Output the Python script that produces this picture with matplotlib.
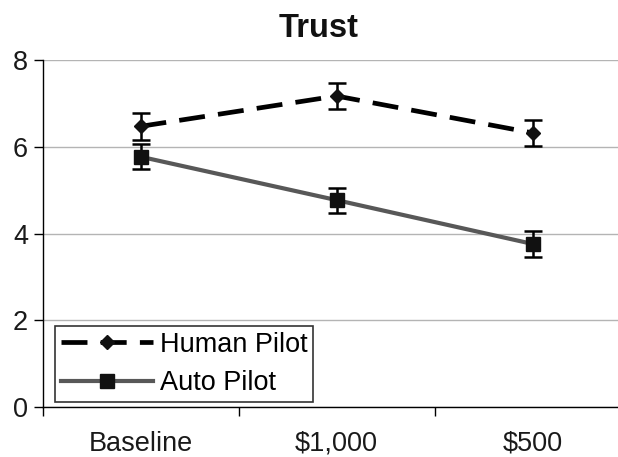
import numpy as np
import matplotlib.pyplot as plt

plt.rcParams['font.family'] = ['Liberation Sans', 'DejaVu Sans']

categories = ['Baseline', '$1,000', '$500']
human = [6.47, 7.17, 6.32]
human_err = [0.31, 0.30, 0.30]
auto = [5.77, 4.77, 3.76]
auto_err = [0.29, 0.29, 0.30]

W, H = 618, 457
fig = plt.figure(figsize=(W / 100, H / 100), dpi=100)
# axes run past the right edge like the original
ax = fig.add_axes([42.5 / W, 1 - 407 / H, 588 / W, 347 / H])

x = np.arange(len(categories)) + 0.5

ax.errorbar(x, human, yerr=human_err, fmt='none', ecolor='black',
            elinewidth=1.8, capsize=6.5, capthick=1.8, zorder=3)
ax.errorbar(x, auto, yerr=auto_err, fmt='none', ecolor='black',
            elinewidth=1.8, capsize=6.5, capthick=1.8, zorder=3)
ax.plot(x, human, color='black', lw=3.4, ls=(0, (5.5, 2.8)), marker='D',
        ms=7.5, mfc='#111111', mec='#111111', label='Human Pilot', zorder=4)
ax.plot(x, auto, color='#585858', lw=3, marker='s', ms=10,
        mfc='#111111', mec='#111111', label='Auto Pilot', zorder=4)

ax.set_xlim(0, 3)
ax.set_ylim(0, 8)
ax.set_yticks([0, 2, 4, 6, 8])
ax.set_xticks([0, 1, 2, 3])
ax.set_xticklabels([])
ax.set_xticks(x, minor=True)
ax.set_xticklabels(categories, minor=True)
ax.tick_params(axis='x', which='minor', length=0, labelsize=19.5, pad=17,
               labelcolor='#1a1a1a')
ax.tick_params(axis='x', which='major', length=6.5, width=1, direction='out')
ax.tick_params(axis='y', length=6.5, width=1, labelsize=19.5, pad=4,
               labelcolor='#1a1a1a')

ax.grid(axis='y', color='#b4b4b4', lw=1)
ax.set_axisbelow(True)
for s in ['top', 'right']:
    ax.spines[s].set_visible(False)
ax.spines['left'].set_linewidth(1)
ax.spines['bottom'].set_linewidth(1)

fig.text(319 / W, 1 - 37 / H, 'Trust', ha='center', va='baseline',
         fontsize=23.5, fontweight='bold', color='#111111')

leg = ax.legend(loc='upper left', bbox_to_anchor=(55 / W, 1 - 326 / H),
                bbox_transform=fig.transFigure, borderaxespad=0,
                fontsize=19.5, handlelength=3.4, handletextpad=0.25,
                frameon=True, fancybox=False, edgecolor='black',
                borderpad=0.22, labelspacing=0.45)
leg.get_frame().set_linewidth(1.2)

fig.savefig('out.png', dpi=100)
